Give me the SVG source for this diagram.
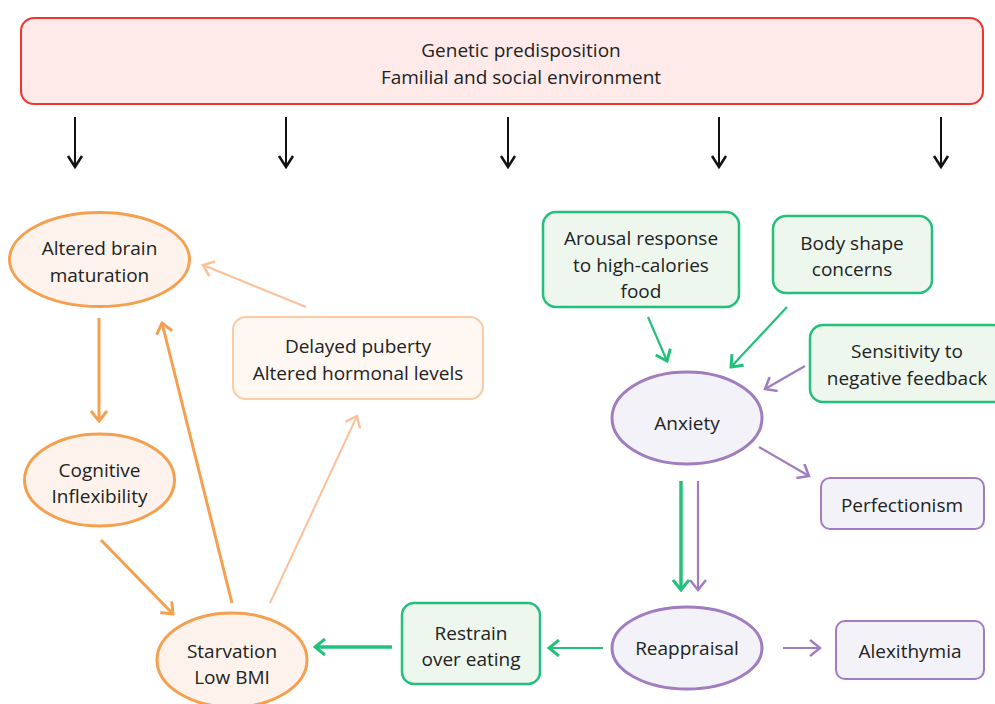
<svg xmlns="http://www.w3.org/2000/svg" width="995" height="704" viewBox="0 0 995 704">
<style>
text{font-family:"Open Sans","Liberation Sans",sans-serif;font-size:19px;fill:#222;text-anchor:middle}
.top rect{fill:#ffeaea;stroke:#f2342f;stroke-width:2}
.o ellipse{fill:#fdf3ec;stroke:#f5a04f;stroke-width:3}
.lo rect{fill:#fff8f2;stroke:#fccaa3;stroke-width:2}
.g rect{fill:#eef7ee;stroke:#22c07a;stroke-width:2.5}
.p ellipse{fill:#f3f2f8;stroke:#a07cc0;stroke-width:3}
.p rect{fill:#f3f2f8;stroke:#a07cc0;stroke-width:2}
.c path{fill:none}
.k{stroke:#111;stroke-width:2}
.or{stroke:#f5a04f;stroke-width:3}
.lor{stroke:#fcc09a;stroke-width:2}
.gr{stroke:#22c07a;stroke-width:2.2}
.grt{stroke:#22c07a;stroke-width:3.5}
.pu{stroke:#a07cc0;stroke-width:2.2}
</style>
<defs>
<marker id="mk" viewBox="-12 -9 14 18" markerUnits="userSpaceOnUse" markerWidth="14" markerHeight="18" refX="0" refY="0" orient="auto"><path d="M-11,-7 L0,0 L-11,7" fill="none" stroke="#111" stroke-width="2.5"/></marker>
<marker id="mo" viewBox="-12 -9 14 18" markerUnits="userSpaceOnUse" markerWidth="14" markerHeight="18" refX="0" refY="0" orient="auto"><path d="M-10,-8 L0,0 L-10,8" fill="none" stroke="#f5a04f" stroke-width="3"/></marker>
<marker id="mlo" viewBox="-12 -9 14 18" markerUnits="userSpaceOnUse" markerWidth="14" markerHeight="18" refX="0" refY="0" orient="auto"><path d="M-10,-8 L0,0 L-10,8" fill="none" stroke="#fcc09a" stroke-width="2.5"/></marker>
<marker id="mg" viewBox="-12 -9 14 18" markerUnits="userSpaceOnUse" markerWidth="14" markerHeight="18" refX="0" refY="0" orient="auto"><path d="M-10,-8 L0,0 L-10,8" fill="none" stroke="#22c07a" stroke-width="3"/></marker>
<marker id="mp" viewBox="-12 -9 14 18" markerUnits="userSpaceOnUse" markerWidth="14" markerHeight="18" refX="0" refY="0" orient="auto"><path d="M-10,-8 L0,0 L-10,8" fill="none" stroke="#a07cc0" stroke-width="2.5"/></marker>
</defs>
<rect width="995" height="704" fill="#fff"/>

<g id="genetic" class="top"><rect x="21" y="18" width="962" height="86" rx="13"/><text x="521" y="57">Genetic predisposition</text><text x="521" y="84">Familial and social environment</text></g>

<g id="brain" class="o"><ellipse cx="99.5" cy="259.5" rx="90" ry="47"/><text x="99.5" y="255">Altered brain</text><text x="99.5" y="282">maturation</text></g>
<g id="cognitive" class="o"><ellipse cx="99.5" cy="480" rx="75" ry="46"/><text x="99.5" y="477">Cognitive</text><text x="99.5" y="503">Inflexibility</text></g>
<g id="starvation" class="o"><ellipse cx="232" cy="660" rx="75" ry="47"/><text x="232" y="658">Starvation</text><text x="232" y="684">Low BMI</text></g>
<g id="puberty" class="lo"><rect x="233" y="317" width="250" height="82" rx="13"/><text x="358" y="353">Delayed puberty</text><text x="358" y="380">Altered hormonal levels</text></g>
<g id="restrain" class="g"><rect x="402" y="603" width="138" height="81" rx="12"/><text x="471" y="640">Restrain</text><text x="471" y="666">over eating</text></g>
<g id="arousal" class="g"><rect x="543" y="212" width="196" height="95" rx="13"/><text x="641" y="245">Arousal response</text><text x="641" y="272">to high-calories</text><text x="641" y="298">food</text></g>
<g id="body" class="g"><rect x="773" y="216" width="159" height="77" rx="13"/><text x="852" y="250">Body shape</text><text x="852" y="276">concerns</text></g>
<g id="sensitivity" class="g"><rect x="810" y="325" width="196" height="77" rx="13"/><text x="907" y="358">Sensitivity to</text><text x="907" y="385">negative feedback</text></g>
<g id="anxiety" class="p"><ellipse cx="687" cy="418" rx="75" ry="46"/><text x="687" y="430">Anxiety</text></g>
<g id="perfectionism" class="p"><rect x="821" y="478" width="163" height="51" rx="9"/><text x="902" y="512">Perfectionism</text></g>
<g id="reappraisal" class="p"><ellipse cx="687" cy="648" rx="75" ry="41"/><text x="687" y="655">Reappraisal</text></g>
<g id="alexithymia" class="p"><rect x="836" y="621" width="148" height="58" rx="9"/><text x="910" y="658">Alexithymia</text></g>

<g id="connectors" class="c">
<path class="k" d="M75,117 V167" marker-end="url(#mk)"/>
<path class="k" d="M286,117 V167" marker-end="url(#mk)"/>
<path class="k" d="M508,117 V167" marker-end="url(#mk)"/>
<path class="k" d="M719,117 V167" marker-end="url(#mk)"/>
<path class="k" d="M941,117 V167" marker-end="url(#mk)"/>
<path class="or" d="M99,318 V421" marker-end="url(#mo)"/>
<path class="or" d="M101,540 L173,614" marker-end="url(#mo)"/>
<path class="or" d="M232,603 L162,323" marker-end="url(#mo)"/>
<path class="lor" d="M270,603 L357,416" marker-end="url(#mlo)"/>
<path class="lor" d="M306,307 L203,265" marker-end="url(#mlo)"/>
<path class="grt" d="M392,647 L315,647" marker-end="url(#mg)"/>
<path class="gr" d="M603,648 L549,648" marker-end="url(#mg)"/>
<path class="gr" d="M648,317 L667,361" marker-end="url(#mg)"/>
<path class="gr" d="M787,307 L731,367" marker-end="url(#mg)"/>
<path class="pu" d="M805,366 L765,389" marker-end="url(#mp)"/>
<path class="pu" d="M759,447 L809,476" marker-end="url(#mp)"/>
<path class="grt" d="M681,481 V590" marker-end="url(#mg)"/>
<path class="pu" d="M698,481 V590" marker-end="url(#mp)"/>
<path class="pu" d="M783,648 L820,648" marker-end="url(#mp)"/>
</g>
</svg>
